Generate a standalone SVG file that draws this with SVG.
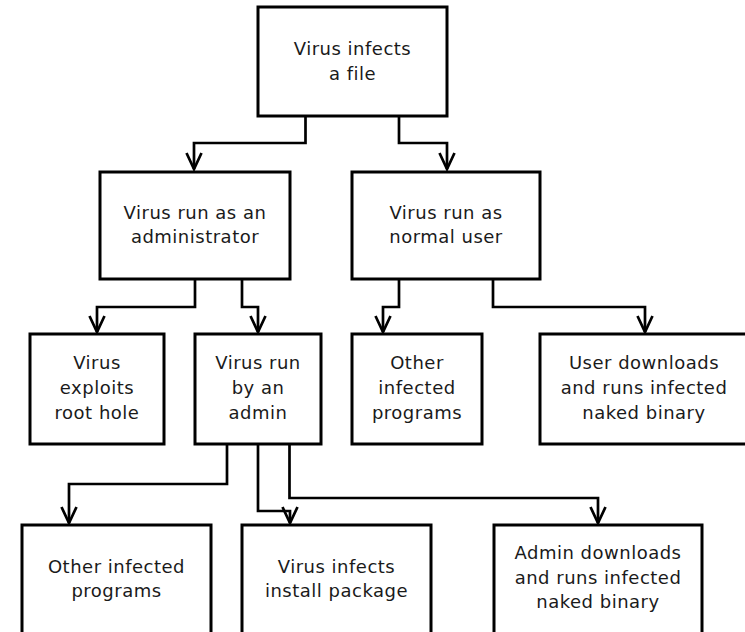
<svg xmlns="http://www.w3.org/2000/svg" width="745" height="632" viewBox="0 0 745 632">
<style>
.box{fill:#fff;stroke:#000;stroke-width:3}
.lbl{font-family:"DejaVu Sans","Liberation Sans",sans-serif;font-size:18px;letter-spacing:0.5px;fill:#1a1a1a;text-anchor:middle}
.conn{fill:none;stroke:#000;stroke-width:2.7;marker-end:url(#arr)}
</style>
<defs>
<marker id="arr" markerUnits="userSpaceOnUse" viewBox="-20 -10 24 20" refX="0" refY="0" markerWidth="24" markerHeight="20" orient="auto" overflow="visible">
<path d="M-16,-7.5 L0,0 L-16,7.5" fill="none" stroke="#000" stroke-width="2.7"/>
</marker>
</defs>
<rect width="745" height="632" fill="#fff"/>
<g id="connectors">
<path class="conn" d="M305.5,116 V143 H194 V169"/>
<path class="conn" d="M399,116 V143 H447 V169"/>
<path class="conn" d="M195,279 V307 H97 V332"/>
<path class="conn" d="M242,279 V307 H258 V332"/>
<path class="conn" d="M399,279 V307 H383 V332"/>
<path class="conn" d="M493,279 V307 H645 V332"/>
<path class="conn" d="M227,444 V484 H69 V523"/>
<path class="conn" d="M258,444 V511 H290 V523"/>
<path class="conn" d="M289.5,444 V498 H598 V523"/>
</g>
<g id="n-infects-file">
<rect class="box" x="258" y="7" width="189" height="109"/>
<text class="lbl" x="352.5" y="54.5">Virus infects</text>
<text class="lbl" x="352.5" y="79.5">a file</text>
</g>
<g id="n-run-admin">
<rect class="box" x="100" y="172" width="190" height="107"/>
<text class="lbl" x="195" y="219">Virus run as an</text>
<text class="lbl" x="195" y="243">administrator</text>
</g>
<g id="n-run-user">
<rect class="box" x="352" y="172" width="188" height="107"/>
<text class="lbl" x="446" y="219">Virus run as</text>
<text class="lbl" x="446" y="243">normal user</text>
</g>
<g id="n-root-hole">
<rect class="box" x="30" y="334" width="134" height="110"/>
<text class="lbl" x="97" y="369">Virus</text>
<text class="lbl" x="97" y="394">exploits</text>
<text class="lbl" x="97" y="419">root hole</text>
</g>
<g id="n-run-by-admin">
<rect class="box" x="195" y="334" width="126" height="110"/>
<text class="lbl" x="258" y="369">Virus run</text>
<text class="lbl" x="258" y="394">by an</text>
<text class="lbl" x="258" y="419">admin</text>
</g>
<g id="n-other-user">
<rect class="box" x="352" y="334" width="130" height="110"/>
<text class="lbl" x="417" y="369">Other</text>
<text class="lbl" x="417" y="394">infected</text>
<text class="lbl" x="417" y="419">programs</text>
</g>
<g id="n-user-downloads">
<rect class="box" x="540" y="334" width="208" height="110"/>
<text class="lbl" x="644" y="369">User downloads</text>
<text class="lbl" x="644" y="394">and runs infected</text>
<text class="lbl" x="644" y="419">naked binary</text>
</g>
<g id="n-other-admin">
<rect class="box" x="22" y="525" width="189" height="110"/>
<text class="lbl" x="116.5" y="573">Other infected</text>
<text class="lbl" x="116.5" y="597">programs</text>
</g>
<g id="n-install-package">
<rect class="box" x="242" y="525" width="189" height="110"/>
<text class="lbl" x="336.5" y="573">Virus infects</text>
<text class="lbl" x="336.5" y="597">install package</text>
</g>
<g id="n-admin-downloads">
<rect class="box" x="494" y="525" width="208" height="110"/>
<text class="lbl" x="598" y="559">Admin downloads</text>
<text class="lbl" x="598" y="584">and runs infected</text>
<text class="lbl" x="598" y="608">naked binary</text>
</g>
</svg>
